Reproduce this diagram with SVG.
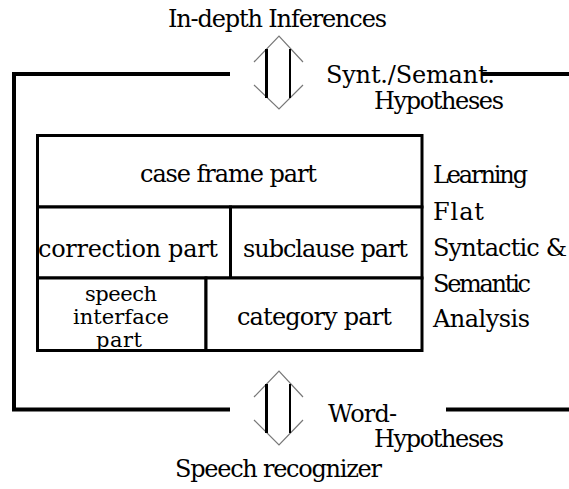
<svg xmlns="http://www.w3.org/2000/svg" width="569" height="489" viewBox="0 0 569 489">
<style>
text{font-size:24px;fill:#000}
.sm{font-size:21px}
.cell{fill:#fff;stroke:#000;stroke-width:3}
.bar{stroke:#000;stroke-width:4;fill:none}
.head{stroke:#777;stroke-width:1.2;fill:none}
.shL{stroke:#000;stroke-width:3}
.shR{stroke:#000;stroke-width:2}
</style>
<rect width="569" height="489" fill="#fff"/>
<g id="connectors">
<path class="bar" d="M230,74 H14 V411 M12,409.5 H230"/>
<path class="bar" d="M482,74 H569 M446,409.5 H569"/>
<g id="arrow-top">
<path class="head" d="M254,62 L279,36 L303,62 M254,85 L279,109 L303,85"/>
<line class="shL" x1="266.5" y1="49" x2="266.5" y2="98"/>
<line class="shR" x1="290" y1="49" x2="290" y2="98"/>
</g>
<g id="arrow-bottom">
<path class="head" d="M254,397 L279,371 L303,397 M254,420 L279,445 L303,420"/>
<line class="shL" x1="266.5" y1="384" x2="266.5" y2="433"/>
<line class="shR" x1="290" y1="384" x2="290" y2="433"/>
</g>
</g>
<g font-family="DejaVu Serif, serif">
<g id="case-frame"><rect class="cell" x="37.5" y="135.5" width="384.5" height="71.5"/><text x="140" y="182" textLength="177" lengthAdjust="spacing">case frame part</text></g>
<g id="correction"><rect class="cell" x="37.5" y="207" width="193" height="71"/><text x="38" y="257" textLength="180" lengthAdjust="spacing">correction part</text></g>
<g id="subclause"><rect class="cell" x="230.5" y="207" width="191.5" height="71"/><text x="243" y="257" textLength="165" lengthAdjust="spacing">subclause part</text></g>
<g id="speech-interface"><rect class="cell" x="37.5" y="278" width="168.5" height="72.5"/><text class="sm" x="85" y="301" textLength="72" lengthAdjust="spacing">speech</text><text class="sm" x="73" y="324" textLength="96" lengthAdjust="spacing">interface</text><text class="sm" x="96" y="347" textLength="46" lengthAdjust="spacing">part</text></g>
<g id="category"><rect class="cell" x="206" y="278" width="216" height="72.5"/><text x="237" y="325" textLength="155" lengthAdjust="spacing">category part</text></g>
<g id="labels">
<text x="168" y="27" textLength="219" lengthAdjust="spacing">In-depth Inferences</text>
<text x="326" y="83" textLength="169" lengthAdjust="spacing">Synt./Semant.</text>
<text x="374" y="109" textLength="130" lengthAdjust="spacing">Hypotheses</text>
<text x="433" y="183" textLength="95" lengthAdjust="spacing">Learning</text>
<text x="433" y="220" textLength="51" lengthAdjust="spacing">Flat</text>
<text x="433" y="256" textLength="134" lengthAdjust="spacing">Syntactic &amp;</text>
<text x="433" y="292" textLength="98" lengthAdjust="spacing">Semantic</text>
<text x="433" y="327" textLength="97" lengthAdjust="spacing">Analysis</text>
<text x="328" y="422" textLength="69" lengthAdjust="spacing">Word-</text>
<text x="374" y="447" textLength="130" lengthAdjust="spacing">Hypotheses</text>
<text x="175" y="477" textLength="207" lengthAdjust="spacing">Speech recognizer</text>
</g>
</g>
</svg>
